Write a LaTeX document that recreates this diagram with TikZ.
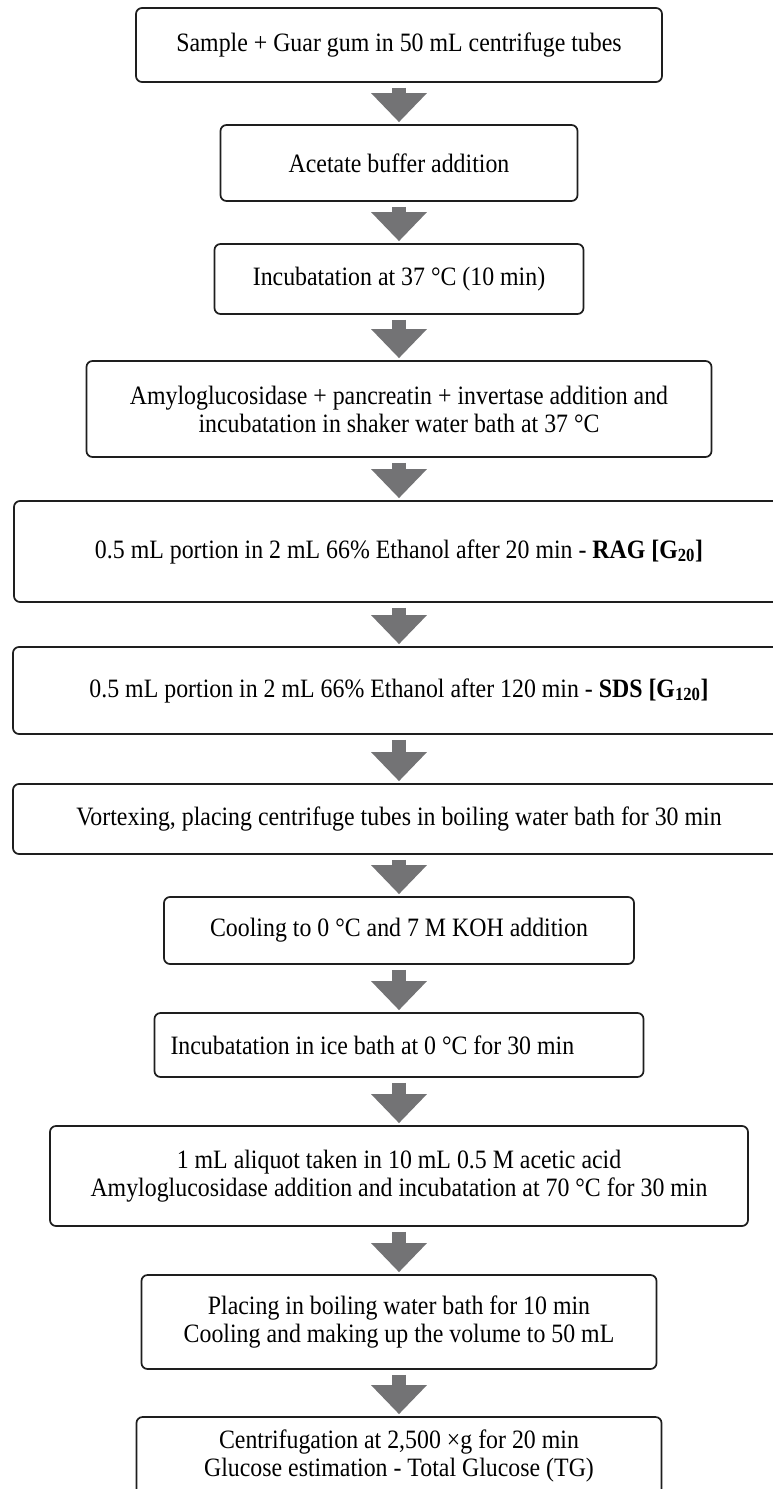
\documentclass[tikz,border=0pt]{standalone}
\usepackage{fontspec}
\setmainfont{Liberation Serif}[FakeStretch=0.9]
\usetikzlibrary{arrows.meta,calc}
\definecolor{arrgray}{HTML}{737375}
\definecolor{boxline}{HTML}{1E1E1E}
\tikzset{
  stepbox/.style={draw=boxline, line width=1.7pt, rounded corners=6pt, align=center,
    inner sep=4pt, font=\fontsize{26.5}{28}\selectfont},
  flowarrow/.style={draw=arrgray, line width=14pt, -{Triangle[length=29pt,width=54pt]}}
}
\begin{document}
\begin{tikzpicture}[x=1pt,y=-1pt]
\useasboundingbox (0,0) rectangle (773,1489);
\fill[white] (0,0) rectangle (773,1489);

\node[stepbox, minimum width=526pt, minimum height=74pt] (b1) at (399,45)
  {Sample + Guar gum in 50 mL centrifuge tubes};
\node[stepbox, minimum width=357pt, minimum height=76pt] (b2) at (399,163)
  {Acetate buffer addition};
\node[stepbox, minimum width=369pt, minimum height=70pt] (b3) at (399,279)
  {Incubatation at 37 °C (10 min)};
\node[stepbox, minimum width=625pt, minimum height=96pt] (b4) at (399,409)
  {Amyloglucosidase + pancreatin + invertase addition and\\incubatation in shaker water bath at 37 °C};
\node[stepbox, minimum width=770pt, minimum height=101pt] (b5) at (399,551.5)
  {0.5 mL portion in 2 mL 66\% Ethanol after 20 min - \textbf{RAG [G\textsubscript{20}]}};
\node[stepbox, minimum width=772pt, minimum height=87pt] (b6) at (399,690.5)
  {0.5 mL portion in 2 mL 66\% Ethanol after 120 min - \textbf{SDS [G\textsubscript{120}]}};
\node[stepbox, minimum width=772pt, minimum height=70pt] (b7) at (399,819)
  {Vortexing, placing centrifuge tubes in boiling water bath for 30 min};
\node[stepbox, minimum width=470pt, minimum height=67pt] (b8) at (399,930.5)
  {Cooling to 0 °C and 7 M KOH addition};
\node[stepbox, align=flush left, text width=457pt, inner xsep=16pt, minimum height=64pt] (b9) at (399,1045)
  {Incubatation in ice bath at 0 °C for 30 min};
\node[stepbox, minimum width=698pt, minimum height=100pt] (b10) at (399,1176)
  {1 mL aliquot taken in 10 mL 0.5 M acetic acid\\Amyloglucosidase addition and incubatation at 70 °C for 30 min};
\node[stepbox, minimum width=515pt, minimum height=94pt] (b11) at (399,1322)
  {Placing in boiling water bath for 10 min\\Cooling and making up the volume to 50 mL};
\node[stepbox, minimum width=525pt, minimum height=78pt] (b12) at (399,1456)
  {Centrifugation at 2,500 ×g for 20 min\\Glucose estimation - Total Glucose (TG)};

\foreach \a/\b in {b1/b2,b2/b3,b3/b4,b4/b5,b5/b6,b6/b7,b7/b8,b8/b9,b9/b10,b10/b11,b11/b12}
  \draw[flowarrow] ($(\a.south)+(0pt,-5pt)$) -- ($(\b.north)+(0pt,2pt)$);
\end{tikzpicture}
\end{document}
